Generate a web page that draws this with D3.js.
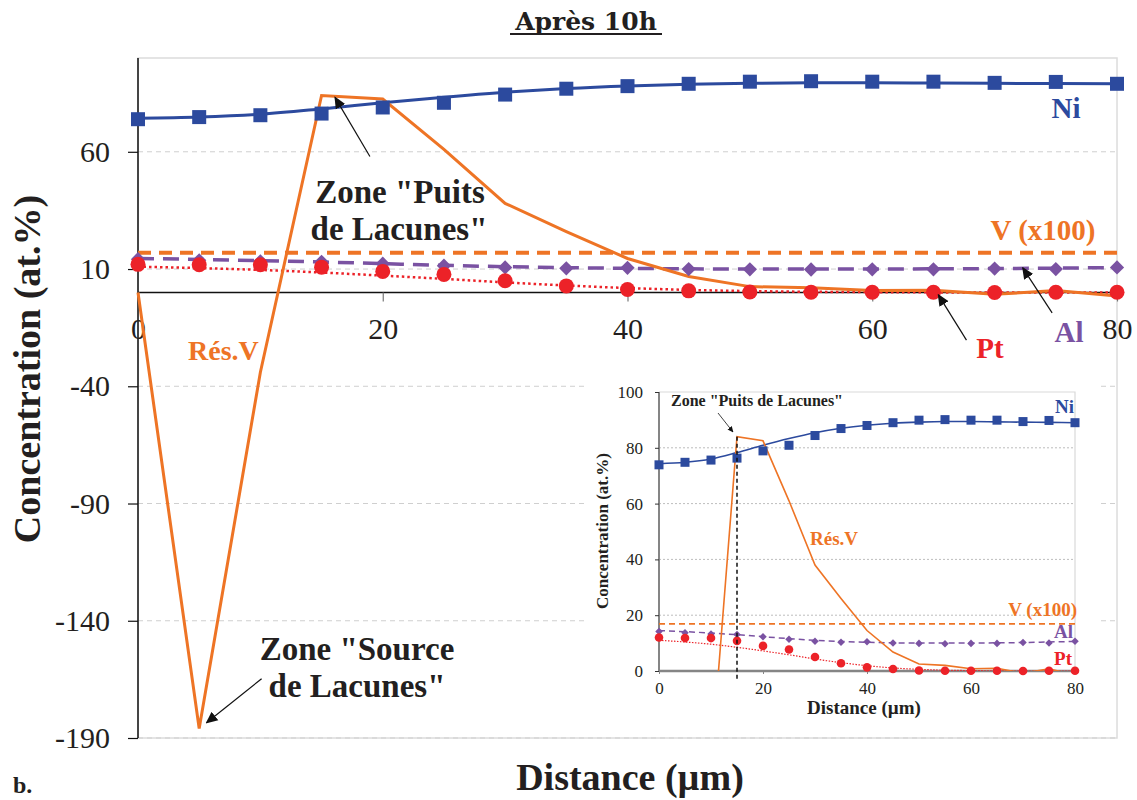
<!DOCTYPE html>
<html>
<head>
<meta charset="utf-8">
<script src="https://cdn.jsdelivr.net/npm/d3@7"></script>
<style>
  body { margin: 0; background: #fff; }
  svg { display: block; font-family: "Liberation Serif", "Times New Roman", serif; }
</style>
</head>
<body>
<script>
// distances (µm)
const distance = [0, 5, 10, 15, 20, 25, 30, 35, 40, 45, 50, 55, 60, 65, 70, 75, 80];

// measured points
const niPoints = [73.9, 74.8, 75.6, 76.3, 78.9, 80.9, 84.4, 86.9, 88.0, 89.0, 89.9, 90.1, 89.9, 89.9, 89.4, 89.8, 89.0];
const alPoints = [14.2, 13.7, 13.3, 13.1, 12.3, 11.4, 10.7, 10.3, 10.5, 10.0, 9.9, 9.8, 9.9, 9.9, 10.2, 10.0, 10.7];
const ptPoints = [12.0, 11.8, 11.8, 10.8, 9.0, 7.7, 5.0, 2.8, 1.3, 0.7, 0.2, 0.1, 0.1, 0.1, 0.0, 0.1, 0.1];

// fitted curves
const niFit = [74.3, 74.8, 76.0, 78.3, 80.9, 83.3, 85.4, 87.0, 88.1, 88.8, 89.2, 89.4, 89.4, 89.3, 89.2, 89.1, 89.0];
const alFit = [14.5, 14.1, 13.6, 13.0, 12.3, 11.6, 11.0, 10.6, 10.3, 10.1, 10.0, 10.0, 10.0, 10.1, 10.2, 10.4, 10.6];
const ptFit = [11.0, 10.4, 9.6, 8.5, 7.2, 5.8, 4.3, 3.0, 1.9, 1.1, 0.6, 0.3, 0.15, 0.05, 0.0, 0.0, 0.0];

// vacancies (x100) and vacancy residual
const vX100 = [16.9, 16.9, 16.9, 16.9, 16.9, 16.9, 16.9, 16.9, 16.9, 16.9, 16.9, 16.9, 16.9, 16.9, 16.9, 16.9, 16.9];
const resV = [0, -186, -34, 84, 82.5, 61, 38, 26, 14.5, 6.8, 2.5, 2.0, 0.8, 1.0, -0.8, 0.8, -1.5];

const mainXTicks = [0, 20, 40, 60, 80];
const mainYTicks = [60, 10, -40, -90, -140, -190];
const insetXTicks = [0, 20, 40, 60, 80];
const insetYTicks = [0, 20, 40, 60, 80, 100];

const cNi = "#2C4A9E", cOr = "#EE7425", cAl = "#7A52A2", cPt = "#EC2228", cTxt = "#231f20";

const W = 1137, H = 800;
const svg = d3.select("body").append("svg").attr("width", W).attr("height", H);
const defs = svg.append("defs");

defs.append("marker")
    .attr("id", "arr")
    .attr("viewBox", "0 -5 10 10")
    .attr("refX", 9).attr("refY", 0)
    .attr("markerWidth", 12).attr("markerHeight", 12)
    .attr("markerUnits", "userSpaceOnUse")
    .attr("orient", "auto")
    .append("path").attr("d", "M0,-4.5L10,0L0,4.5Z").attr("fill", "#111");
defs.append("marker")
    .attr("id", "arrS").attr("viewBox", "0 -5 10 10").attr("refX", 9).attr("refY", 0)
    .attr("markerWidth", 6).attr("markerHeight", 6).attr("markerUnits", "userSpaceOnUse")
    .attr("orient", "auto").append("path").attr("d", "M0,-4.5L10,0L0,4.5Z").attr("fill", "#111");

const plain = d => String(d);   // hyphen minus like the original

// ---------- main chart ----------
const x = d3.scaleLinear().domain([0, 80]).range([138, 1117]);
const y = d3.scaleLinear().domain([-190, 100]).range([738, 58]);

// frame
svg.append("rect").attr("x", 138).attr("y", 58).attr("width", 1117 - 138).attr("height", 738 - 58)
    .attr("fill", "none").attr("stroke", "#dcdcdc").attr("stroke-width", 1.5);

svg.append("g").selectAll("line").data(mainYTicks).enter().append("line")
    .attr("x1", x(0)).attr("x2", x(80))
    .attr("y1", d => y(d)).attr("y2", d => y(d))
    .attr("stroke", "#cfcfcf").attr("stroke-width", 1).attr("stroke-dasharray", "5,4");

const yAx = svg.append("g").attr("transform", `translate(${x(0)},0)`)
    .call(d3.axisLeft(y).tickValues(mainYTicks).tickFormat(plain).tickSize(10).tickPadding(18));
yAx.select(".domain").attr("stroke", "#111").attr("stroke-width", 1.5).attr("d", `M0,${y(100)}V${y(-190)}`);
yAx.selectAll("line").attr("stroke", "#111").attr("stroke-width", 1.2);
yAx.selectAll("text").attr("font-size", 30).attr("fill", cTxt).attr("font-family", "Liberation Serif");

const xAx = svg.append("g").attr("transform", `translate(0,${y(0)})`)
    .call(d3.axisBottom(x).tickValues(mainXTicks).tickFormat(plain).tickSize(9).tickPadding(16));
xAx.select(".domain").attr("stroke", "#111").attr("stroke-width", 1.3).attr("d", `M${x(0)},0H${x(80)}`);
xAx.selectAll("line").attr("stroke", "#777").attr("stroke-width", 1.2);
xAx.selectAll("text").attr("font-size", 30).attr("fill", cTxt).attr("font-family", "Liberation Serif");

const pts = arr => arr.map((v, i) => [distance[i], v]);
const lineMain = d3.line().x(d => x(d[0])).y(d => y(d[1]));
const smoothMain = d3.line().x(d => x(d[0])).y(d => y(d[1])).curve(d3.curveMonotoneX);

const gMain = svg.append("g");
gMain.append("path").attr("d", lineMain(pts(vX100))).attr("fill", "none")
    .attr("stroke", cOr).attr("stroke-width", 4).attr("stroke-dasharray", "13,8");
gMain.append("path").attr("d", smoothMain(pts(alFit))).attr("fill", "none")
    .attr("stroke", cAl).attr("stroke-width", 3.5).attr("stroke-dasharray", "16,9");
gMain.append("path").attr("d", smoothMain(pts(ptFit))).attr("fill", "none")
    .attr("stroke", cPt).attr("stroke-width", 2.5).attr("stroke-dasharray", "2.5,3");
gMain.append("path").attr("d", smoothMain(pts(niFit))).attr("fill", "none")
    .attr("stroke", cNi).attr("stroke-width", 3);
gMain.append("path").attr("d", lineMain(pts(resV))).attr("fill", "none")
    .attr("stroke", cOr).attr("stroke-width", 3).attr("stroke-linejoin", "miter");

gMain.append("g").selectAll("path").data(pts(alPoints)).enter().append("path")
    .attr("d", d3.symbol(d3.symbolDiamond2, 130)())
    .attr("transform", d => `translate(${x(d[0])},${y(d[1])})`).attr("fill", cAl);
gMain.append("g").selectAll("rect").data(pts(niPoints)).enter().append("rect")
    .attr("x", d => x(d[0]) - 7).attr("y", d => y(d[1]) - 7)
    .attr("width", 14).attr("height", 14).attr("fill", cNi);
gMain.append("g").selectAll("circle").data(pts(ptPoints)).enter().append("circle")
    .attr("cx", d => x(d[0])).attr("cy", d => y(d[1])).attr("r", 7.5).attr("fill", cPt);

// series labels
const lab = (g, t, px, py, col, size, anchor) => g.append("text").text(t)
    .attr("x", px).attr("y", py).attr("fill", col).attr("font-size", size)
    .attr("font-weight", "bold").attr("text-anchor", anchor || "middle");
lab(svg, "Ni", 1066, 118, cNi, 29);
lab(svg, "V (x100)", 1043, 240, cOr, 29);
lab(svg, "Al", 1069, 342, cAl, 29);
lab(svg, "Pt", 990, 358, cPt, 29);
lab(svg, "Rés.V", 188, 360, cOr, 28, "start");

lab(svg, "Zone \"Puits", 400, 203, cTxt, 33);
lab(svg, "de Lacunes\"", 399, 240, cTxt, 33);
lab(svg, "Zone \"Source", 357, 660, cTxt, 33);
lab(svg, "de Lacunes\"", 357, 697, cTxt, 33);

const arrow = (g, x1, y1, x2, y2, w) => g.append("line")
    .attr("x1", x1).attr("y1", y1).attr("x2", x2).attr("y2", y2)
    .attr("stroke", "#111").attr("stroke-width", w || 1.2).attr("marker-end", "url(#arr)");
arrow(svg, x(18.95), y(58), x(16.1), y(83.2));
arrow(svg, x(10.1), y(-164.7), x(5.6), y(-183.5));
arrow(svg, x(67.7), y(-20.3), x(65.4), y(-1));
arrow(svg, x(74.7), y(-8.7), x(72.3), y(10.5));

// titles
svg.append("text").text("Après 10h").attr("x", 586).attr("y", 30)
    .attr("text-anchor", "middle").attr("font-family", "DejaVu Serif").attr("font-weight", "bold")
    .attr("font-size", 25).attr("fill", cTxt);
svg.append("line").attr("x1", 510).attr("x2", 662).attr("y1", 34).attr("y2", 34)
    .attr("stroke", cTxt).attr("stroke-width", 2);

svg.append("text").text("Distance (µm)").attr("x", 630).attr("y", 790)
    .attr("text-anchor", "middle").attr("font-weight", "bold").attr("font-size", 38).attr("fill", cTxt);
svg.append("text").text("Concentration (at.%)")
    .attr("transform", "translate(40,369) rotate(-90)")
    .attr("text-anchor", "middle").attr("font-weight", "bold").attr("font-size", 38).attr("fill", cTxt);
svg.append("text").text("b.").attr("x", 13).attr("y", 793)
    .attr("font-weight", "bold").attr("font-size", 24).attr("fill", cTxt);

// ---------- inset ----------
const ix = d3.scaleLinear().domain([0, 80]).range([659, 1075]);
const iy = d3.scaleLinear().domain([0, 100]).range([671, 392]);

svg.append("rect").attr("x", 588).attr("y", 374).attr("width", 1098 - 588).attr("height", 728 - 374)
    .attr("fill", "#fff");

defs.append("clipPath").attr("id", "iclip").append("rect")
    .attr("x", 659).attr("y", 392).attr("width", 1075 - 659).attr("height", 671 - 392);

svg.append("g").selectAll("line").data(insetYTicks.slice(1, -1)).enter().append("line")
    .attr("x1", ix(0)).attr("x2", ix(80)).attr("y1", d => iy(d)).attr("y2", d => iy(d))
    .attr("stroke", "#bdbdbd").attr("stroke-width", 1).attr("stroke-dasharray", "2,2");
svg.append("path").attr("d", `M${ix(0)},${iy(100)}H${ix(80)}V${iy(0)}`)
    .attr("fill", "none").attr("stroke", "#d9d9d9").attr("stroke-width", 1.2);

const iyAx = svg.append("g").attr("transform", `translate(${ix(0)},0)`)
    .call(d3.axisLeft(iy).tickValues(insetYTicks).tickFormat(plain).tickSize(4).tickPadding(12));
iyAx.select(".domain").attr("stroke", "#858585").attr("stroke-width", 2).attr("d", `M0,${iy(100)}V${iy(0)}`);
iyAx.selectAll("line").attr("stroke", "#333");
iyAx.selectAll("text").attr("font-size", 17).attr("fill", cTxt).attr("font-family", "Liberation Serif");

const ixAx = svg.append("g").attr("transform", `translate(0,${iy(0)})`)
    .call(d3.axisBottom(ix).tickValues(insetXTicks).tickFormat(plain).tickSize(3).tickPadding(8));
ixAx.select(".domain").attr("stroke", "#858585").attr("stroke-width", 2.5).attr("d", `M${ix(0)},0H${ix(80)}`);
ixAx.selectAll("line").attr("stroke", "#858585");
ixAx.selectAll("text").attr("font-size", 17).attr("fill", cTxt).attr("font-family", "Liberation Serif");

const lineIn = d3.line().x(d => ix(d[0])).y(d => iy(d[1]));
const smoothIn = d3.line().x(d => ix(d[0])).y(d => iy(d[1])).curve(d3.curveMonotoneX);
const gIn = svg.append("g");
const gInL = gIn.append("g").attr("clip-path", "url(#iclip)");
gInL.append("path").attr("d", lineIn(pts(vX100))).attr("fill", "none")
    .attr("stroke", cOr).attr("stroke-width", 1.6).attr("stroke-dasharray", "6,4");
gInL.append("path").attr("d", smoothIn(pts(alFit))).attr("fill", "none")
    .attr("stroke", cAl).attr("stroke-width", 1.5).attr("stroke-dasharray", "6,4");
gInL.append("path").attr("d", smoothIn(pts(ptFit))).attr("fill", "none")
    .attr("stroke", cPt).attr("stroke-width", 1.2).attr("stroke-dasharray", "1.5,1.5");
gInL.append("path").attr("d", smoothIn(pts(niFit))).attr("fill", "none")
    .attr("stroke", cNi).attr("stroke-width", 1.6);
gInL.append("path").attr("d", lineIn(pts(resV))).attr("fill", "none")
    .attr("stroke", cOr).attr("stroke-width", 1.6);

gIn.append("g").selectAll("path").data(pts(alPoints)).enter().append("path")
    .attr("d", d3.symbol(d3.symbolDiamond2, 36)())
    .attr("transform", d => `translate(${ix(d[0])},${iy(d[1])})`).attr("fill", cAl);
gIn.append("g").selectAll("rect").data(pts(niPoints)).enter().append("rect")
    .attr("x", d => ix(d[0]) - 4.5).attr("y", d => iy(d[1]) - 4.5)
    .attr("width", 9).attr("height", 9).attr("fill", cNi);
gIn.append("g").selectAll("circle").data(pts(ptPoints)).enter().append("circle")
    .attr("cx", d => ix(d[0])).attr("cy", d => iy(d[1])).attr("r", 4.3).attr("fill", cPt);

// dashed marker of the sink zone
gIn.append("line").attr("x1", ix(15)).attr("x2", ix(15)).attr("y1", iy(resV[3])).attr("y2", iy(0) + 10)
    .attr("stroke", "#111").attr("stroke-width", 1.5).attr("stroke-dasharray", "4,3");

lab(svg, "Ni", 1074, 413, cNi, 19, "end");
lab(svg, "V (x100)", 1077, 616, cOr, 19, "end");
lab(svg, "Al", 1073, 638, cAl, 19, "end");
lab(svg, "Pt", 1072, 665, cPt, 19, "end");
lab(svg, "Rés.V", 810, 545, cOr, 19, "start");
lab(svg, "Zone \"Puits de Lacunes\"", 757, 406, cTxt, 16);
svg.append("line").attr("x1", 718).attr("y1", 413).attr("x2", 733).attr("y2", 432)
    .attr("stroke", "#111").attr("stroke-width", 0.8).attr("marker-end", "url(#arrS)");

svg.append("text").text("Distance (µm)").attr("x", 864).attr("y", 714)
    .attr("text-anchor", "middle").attr("font-weight", "bold").attr("font-size", 19).attr("fill", cTxt);
svg.append("text").text("Concentration (at.%)")
    .attr("transform", "translate(608,531) rotate(-90)")
    .attr("text-anchor", "middle").attr("font-weight", "bold").attr("font-size", 17).attr("fill", cTxt);
</script>
</body>
</html>
